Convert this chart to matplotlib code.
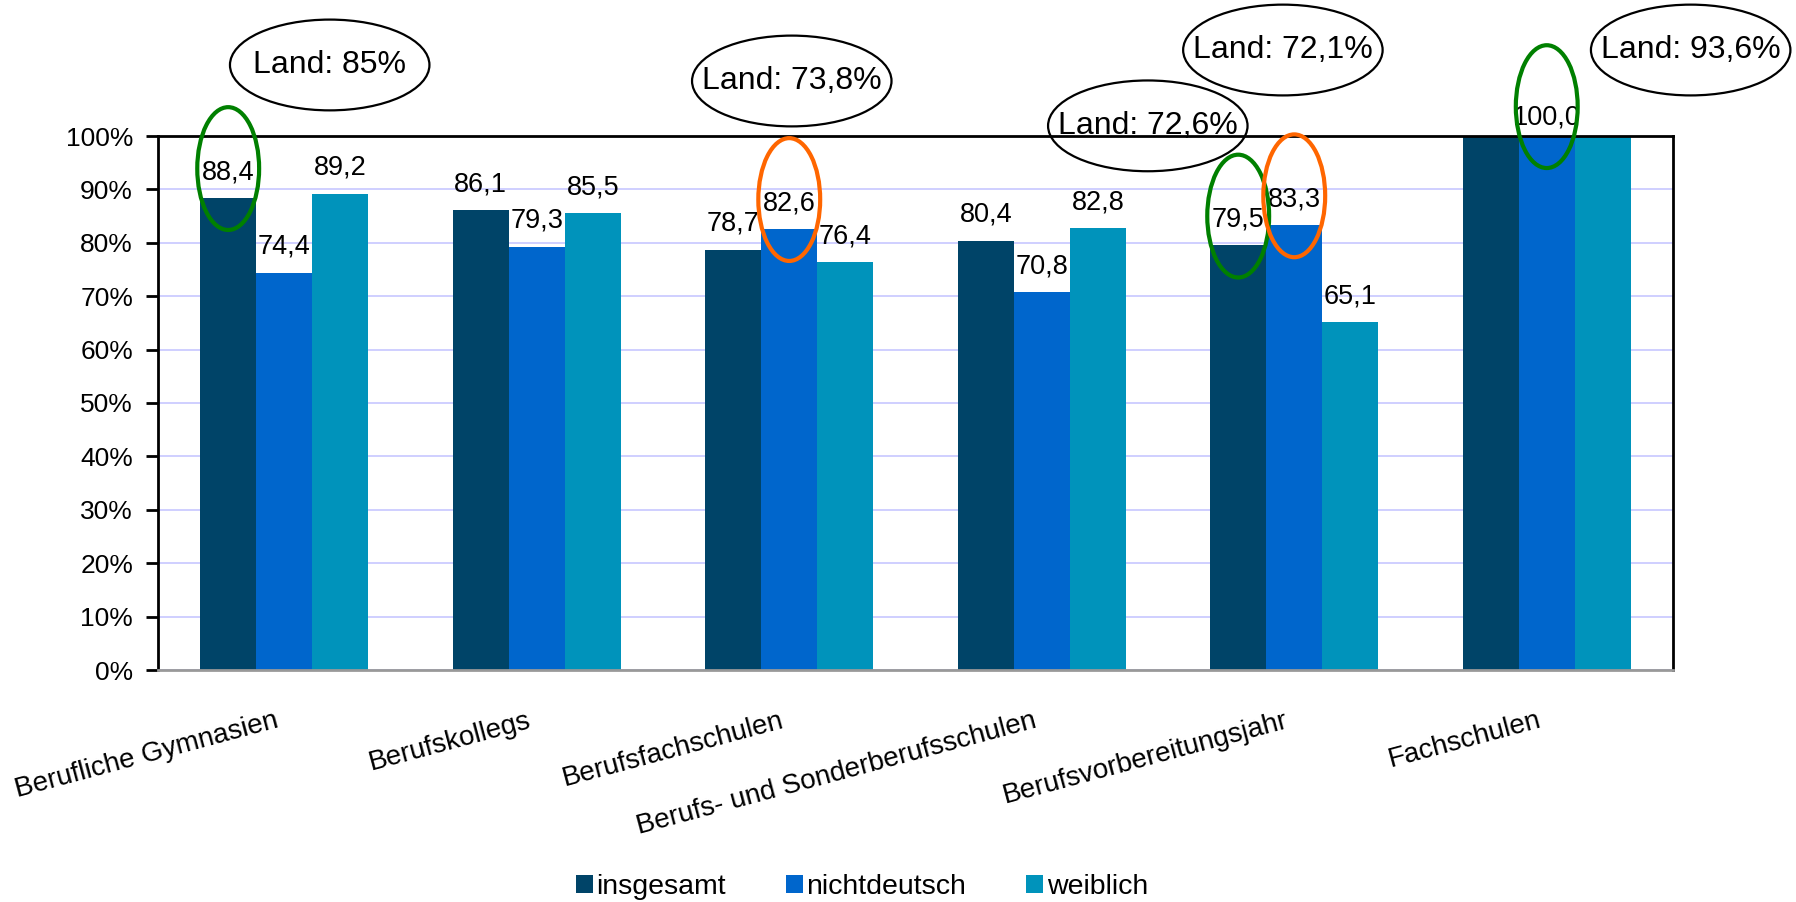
import matplotlib.pyplot as plt
from matplotlib.patches import Ellipse
from matplotlib.transforms import ScaledTranslation
import numpy as np

plt.rcParams['font.family'] = ['Liberation Sans', 'DejaVu Sans']

kategorien = ["Berufliche Gymnasien", "Berufskollegs", "Berufsfachschulen",
              "Berufs- und Sonderberufsschulen", "Berufsvorbereitungsjahr", "Fachschulen"]
namen = ["insgesamt", "nichtdeutsch", "weiblich"]
insgesamt = [88.4, 86.1, 78.7, 80.4, 79.5, 100.0]
nichtdeutsch = [74.4, 79.3, 82.6, 70.8, 83.3, 100.0]
weiblich = [89.2, 85.5, 76.4, 82.8, 65.1, 100.0]

# Landeswerte je Kategorie (None = kein Wert)
land = [85, None, 73.8, 72.6, 72.1, 93.6]
# Lage der Land-Ovale: Verschiebung zur Kategorie und Höhe in %
land_pos = [(0.18, 113.3), None, (0.01, 110.3), (0.42, 101.9), (-0.045, 116.1), (0.57, 116.1)]

# hervorgehobene Werte: (Kategorie, Reihe, Farbe)
markiert = [(0, 0, "green"), (2, 1, "#ff6600"), (4, 0, "green"), (4, 1, "#ff6600"), (5, 1, "green")]
# Werte ohne Beschriftung: (Kategorie, Reihe)
ohne_text = [(5, 0), (5, 2)]

farben = ["#004468", "#0066cc", "#0093bb"]


def fmt(v):
    return f"{v:.1f}".replace(".", ",")


fig = plt.figure(figsize=(17.96, 9.02), dpi=100)
ax = fig.add_axes([158 / 1796, 232 / 902, 1515 / 1796, 534 / 902])

x = np.arange(len(kategorien))
breite = 0.222
reihen = [insgesamt, nichtdeutsch, weiblich]
handles = []
for i, (werte, name, farbe) in enumerate(zip(reihen, namen, farben)):
    balken = ax.bar(x + (i - 1) * breite, werte, breite, color=farbe, label=name, zorder=2)
    handles.append(balken)
    for j, (b, v) in enumerate(zip(balken, werte)):
        if (j, i) in ohne_text:
            continue
        # bei 100 % sitzt die Beschriftung etwas tiefer
        abstand = 8 if v >= 100 else 13.5
        ax.annotate(fmt(v), (b.get_x() + b.get_width() / 2, v), xytext=(0, abstand),
                    textcoords="offset points", ha="center", va="baseline",
                    fontsize=19.5, annotation_clip=False, zorder=4)

# Ovale um einzelne Werte
for j, i, farbe in markiert:
    v = reihen[i][j]
    ax.add_patch(Ellipse((j + (i - 1) * breite, v + 5.5), 0.245, 23, fill=False,
                         edgecolor=farbe, lw=3, clip_on=False, zorder=5))

# Landeswerte in Ovalen
for j, (wert, pos) in enumerate(zip(land, land_pos)):
    if wert is None:
        continue
    dx, y = pos
    ax.add_patch(Ellipse((j + dx, y), 0.79, 17.0, fill=False, edgecolor="black",
                         lw=1.6, clip_on=False, zorder=5))
    ax.text(j + dx, y, "Land: " + f"{wert:g}".replace(".", ",") + "%", ha="center",
            va="center", fontsize=23, zorder=6, clip_on=False)

ax.set_xlim(-0.5, 5.5)
ax.set_ylim(0, 100)
ax.set_yticks(range(0, 101, 10))
ax.set_yticklabels([f"{t}%" for t in range(0, 101, 10)], fontsize=19)
ax.yaxis.grid(True, color="#ccccff", lw=1.3, zorder=0)
ax.tick_params(axis="y", length=9, width=2, pad=9)

ax.set_xticks(x)
ax.set_xticklabels(kategorien, fontsize=20, rotation=15, ha="right", rotation_mode="anchor")
ax.tick_params(axis="x", length=0, pad=27)
verschiebung = ScaledTranslation(-7 / 72, 0, fig.dpi_scale_trans)
for lbl in ax.get_xticklabels():
    lbl.set_transform(lbl.get_transform() + verschiebung)

for s in ["left", "top", "right"]:
    ax.spines[s].set_linewidth(2)
    ax.spines[s].set_color("black")
ax.spines["bottom"].set_linewidth(2)
ax.spines["bottom"].set_color("#999999")

fig.legend(handles=handles, loc="center", bbox_to_anchor=(862 / 1796, 1 - 887 / 902),
           ncol=3, frameon=False, fontsize=20.5, handlelength=0.6, handleheight=0.6,
           handletextpad=0.12, columnspacing=2.1)

fig.savefig("out.png", dpi=100)
